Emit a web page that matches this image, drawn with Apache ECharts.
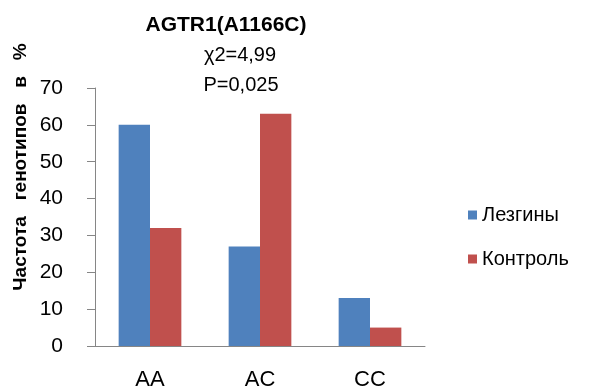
<!DOCTYPE html>
<html><head><meta charset="utf-8">
<script src="https://cdn.jsdelivr.net/npm/echarts@6/dist/echarts.min.js"></script>
<style>html,body{margin:0;padding:0;background:#fff}#c{width:595px;height:391px}</style>
</head><body><div id="c"></div>
<script>
const categories = ['AA', 'AC', 'CC'];
const seriesNames = ['Лезгины', 'Контроль'];
const lezginy = [60, 27, 13];
const kontrol = [32, 63, 5];
const titleText = 'AGTR1(A1166C)';
const statLines = ['χ2=4,99', 'P=0,025'];
const yAxisName = 'Частота   генотипов   в   %';

const font = 'Liberation Sans';
const chart = echarts.init(document.getElementById('c'), null, {renderer: 'canvas'});
chart.setOption({
  animation: false,
  textStyle: {fontFamily: font},
  grid: {left: 95, right: 170, top: 88, bottom: 45},
  title: {
    text: titleText,
    left: 221, top: 10, textAlign: 'center',
    textStyle: {fontFamily: font, fontWeight: 'bold', fontSize: 21, color: '#000'}
  },
  graphic: [
    {type: 'text', style: {text: statLines[0], font: '20px ' + font, fill: '#000', textAlign: 'center', textVerticalAlign: 'middle'}, x: 240, y: 55},
    {type: 'text', style: {text: statLines[1], font: '20px ' + font, fill: '#000', textAlign: 'center', textVerticalAlign: 'middle'}, x: 241, y: 85},
    {type: 'text', style: {text: yAxisName, font: 'bold 19px ' + font, fill: '#000', textAlign: 'center', textVerticalAlign: 'middle'}, x: 21, y: 167, rotation: Math.PI / 2}
  ],
  legend: {
    orient: 'vertical', left: 463, top: 200, itemGap: 24,
    itemWidth: 9, itemHeight: 9, icon: 'rect',
    textStyle: {fontFamily: font, fontSize: 20, color: '#000'},
    data: seriesNames
  },
  xAxis: {
    type: 'category', data: categories,
    axisLine: {lineStyle: {color: '#868686'}},
    axisTick: {show: false},
    axisLabel: {fontSize: 22, color: '#000', margin: 23}
  },
  yAxis: {
    type: 'value', min: 0, max: 70, interval: 10,
    axisLine: {show: true, lineStyle: {color: '#868686'}},
    axisTick: {show: true, length: 8, lineStyle: {color: '#868686'}},
    splitLine: {show: false},
    axisLabel: {fontSize: 21, color: '#000', margin: 32}
  },
  series: [
    {name: seriesNames[0], type: 'bar', data: lezginy, barWidth: '28.5%', barGap: '0%', itemStyle: {color: '#4F81BD'}},
    {name: seriesNames[1], type: 'bar', data: kontrol, barWidth: '28.5%', barGap: '0%', itemStyle: {color: '#C0504D'}}
  ]
});
</script></body></html>
